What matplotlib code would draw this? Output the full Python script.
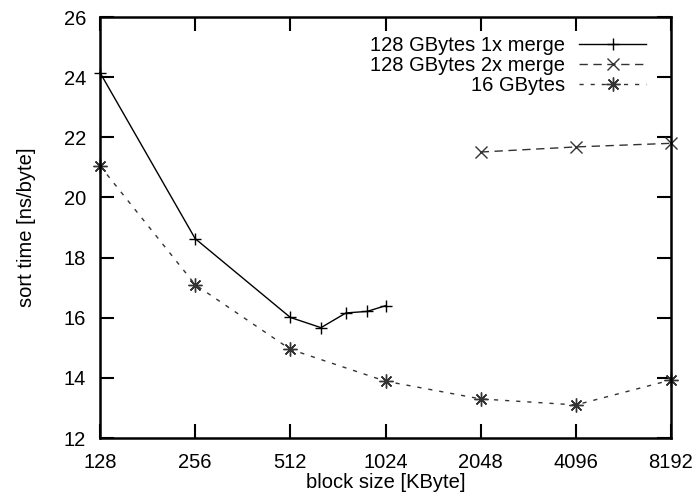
import matplotlib
matplotlib.use("Agg")
import matplotlib.pyplot as plt

plt.rcParams['font.family'] = ['Liberation Sans', 'DejaVu Sans']

# data
x_1x = [128, 256, 512, 640, 768, 896, 1024]
y_1x = [24.15, 18.63, 16.01, 15.67, 16.16, 16.21, 16.4]

x_2x = [2048, 4096, 8192]
y_2x = [21.51, 21.68, 21.8]

x_16 = [128, 256, 512, 1024, 2048, 4096, 8192]
y_16 = [21.05, 17.1, 14.95, 13.89, 13.3, 13.1, 13.93]

xticks = [128, 256, 512, 1024, 2048, 4096, 8192]
yticks = [12, 14, 16, 18, 20, 22, 24, 26]

fs = 14.5

fig = plt.figure(figsize=(6.98, 4.96), dpi=100)
ax = fig.add_axes([0.1433, 0.1169, 0.8180, 0.8488])

ax.plot(x_1x, y_1x, color='black', lw=1, ls='-', marker='+', ms=9,
        mew=1, clip_on=False, label='128 GBytes 1x merge')
ax.plot(x_2x, y_2x, color='#333333', lw=1, ls=(0, (6, 4)), marker='x', ms=9,
        mew=1, clip_on=False, label='128 GBytes 2x merge')
ax.plot(x_16, y_16, color='#333333', lw=1, ls=(0, (3, 5)), marker=(8, 2, 0), ms=10,
        mew=1, clip_on=False, label='16 GBytes')

ax.set_xscale('log', base=2)
ax.set_xlim(128, 8192)
ax.set_ylim(12, 26)
ax.set_xticks(xticks)
ax.set_xticklabels([str(v) for v in xticks])
ax.minorticks_off()
ax.set_yticks(yticks)

ax.tick_params(direction='in', length=10, width=1.5, labelsize=fs,
               top=True, right=True)
ax.tick_params(axis='x', pad=11)
ax.tick_params(axis='y', pad=10)
for s in ax.spines.values():
    s.set_linewidth(1.8)

ax.set_xlabel('block size [KByte]', fontsize=fs)
ax.set_ylabel('sort time [ns/byte]', fontsize=fs)
ax.xaxis.set_label_coords(0.5, -0.083)
ax.yaxis.set_label_coords(-0.112, 0.5)

leg = ax.legend(loc='upper right', frameon=False, markerfirst=False, fontsize=fs,
                handlelength=3.3, handletextpad=0.7, labelspacing=0.05,
                borderaxespad=0.0, bbox_to_anchor=(0.97, 0.975))
for t in leg.get_texts():
    t.set_ha('right')
leg._legend_box.align = 'right'

fig.savefig('out.png', dpi=100)
